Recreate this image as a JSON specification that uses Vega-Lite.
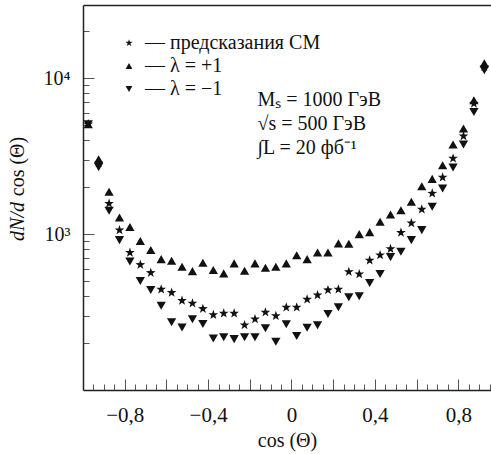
{
  "$schema": "https://vega.github.io/schema/vega-lite/v6.json",
  "width": 408,
  "height": 385,
  "autosize": {"type": "none"},
  "padding": {"left": 83, "top": 5, "right": 0, "bottom": 64},
  "background": "white",
  "config": {
    "font": "Liberation Serif",
    "view": {"stroke": null},
    "axis": {
      "grid": false,
      "domainColor": "#222222",
      "domainWidth": 1.5,
      "tickColor": "#555555",
      "tickWidth": 1,
      "labelFont": "Liberation Serif",
      "labelFontSize": 20,
      "labelColor": "#111111",
      "titleFont": "Liberation Serif",
      "titleFontSize": 20,
      "titleFontWeight": "normal",
      "titleColor": "#111111"
    },
    "legend": {
      "padding": 0,
      "labelFont": "Liberation Serif",
      "labelFontSize": 20,
      "labelColor": "#111111",
      "labelLimit": 0
    }
  },
  "data": {
    "values": [
      {"c": -0.975, "p": 5070, "sm": 5070, "m": 5070},
      {"c": -0.925, "p": 3025, "sm": 2850, "m": 2690},
      {"c": -0.875, "p": 1870, "sm": 1570, "m": 1410},
      {"c": -0.825, "p": 1280, "sm": 1060, "m": 915},
      {"c": -0.775, "p": 1110, "sm": 760, "m": 668},
      {"c": -0.725, "p": 902, "sm": 636, "m": 500},
      {"c": -0.675, "p": 790, "sm": 565, "m": 438},
      {"c": -0.625, "p": 691, "sm": 442, "m": 347},
      {"c": -0.575, "p": 674, "sm": 421, "m": 272},
      {"c": -0.525, "p": 617, "sm": 374, "m": 252},
      {"c": -0.475, "p": 579, "sm": 360, "m": 284},
      {"c": -0.425, "p": 655, "sm": 332, "m": 265},
      {"c": -0.375, "p": 588, "sm": 303, "m": 214},
      {"c": -0.325, "p": 560, "sm": 310, "m": 218},
      {"c": -0.275, "p": 649, "sm": 310, "m": 212},
      {"c": -0.225, "p": 582, "sm": 261, "m": 218},
      {"c": -0.175, "p": 649, "sm": 285, "m": 218},
      {"c": -0.125, "p": 608, "sm": 315, "m": 249},
      {"c": -0.075, "p": 617, "sm": 299, "m": 204},
      {"c": -0.025, "p": 649, "sm": 339, "m": 264},
      {"c": 0.025, "p": 733, "sm": 339, "m": 222},
      {"c": 0.075, "p": 691, "sm": 381, "m": 251},
      {"c": 0.125, "p": 763, "sm": 406, "m": 260},
      {"c": 0.175, "p": 763, "sm": 438, "m": 307},
      {"c": 0.225, "p": 872, "sm": 442, "m": 339},
      {"c": 0.275, "p": 867, "sm": 573, "m": 394},
      {"c": 0.325, "p": 1000, "sm": 554, "m": 399},
      {"c": 0.375, "p": 1030, "sm": 678, "m": 485},
      {"c": 0.425, "p": 1199, "sm": 733, "m": 554},
      {"c": 0.475, "p": 1337, "sm": 804, "m": 712},
      {"c": 0.525, "p": 1425, "sm": 1022, "m": 770},
      {"c": 0.575, "p": 1611, "sm": 1176, "m": 915},
      {"c": 0.625, "p": 2031, "sm": 1440, "m": 1061},
      {"c": 0.675, "p": 2262, "sm": 1823, "m": 1496},
      {"c": 0.725, "p": 2768, "sm": 2310, "m": 1963},
      {"c": 0.775, "p": 3758, "sm": 3058, "m": 2677},
      {"c": 0.825, "p": 4760, "sm": 4248, "m": 3758},
      {"c": 0.875, "p": 7224, "sm": 6885, "m": 6080},
      {"c": 0.925, "p": 12480, "sm": 11810, "m": 11250}
    ]
  },
  "resolve": {"axis": {"x": "independent", "y": "independent"}},
  "layer": [
    {
      "mark": {"type": "point", "opacity": 0},
      "encoding": {
        "x": {
          "field": "c",
          "type": "quantitative",
          "scale": {"domain": [-1, 0.957], "nice": false, "zero": false},
          "axis": {
            "orient": "bottom",
            "values": [-0.95, -0.9, -0.85, -0.8, -0.75, -0.7, -0.65, -0.6, -0.55, -0.5, -0.45, -0.4, -0.35, -0.3, -0.25, -0.2, -0.15, -0.1, -0.05, 0, 0.05, 0.1, 0.15, 0.2, 0.25, 0.3, 0.35, 0.4, 0.45, 0.5, 0.55, 0.6, 0.65, 0.7, 0.75, 0.8, 0.85, 0.9, 0.95],
            "labels": false,
            "domain": false,
            "tickSize": -6,
            "title": null
          }
        },
        "y": {
          "field": "sm",
          "type": "quantitative",
          "scale": {"type": "log", "domain": [100, 29500], "nice": false},
          "axis": {
            "orient": "left",
            "values": [200, 300, 400, 500, 600, 700, 800, 900, 2000, 3000, 4000, 5000, 6000, 7000, 8000, 9000, 20000],
            "labels": false,
            "domain": false,
            "tickSize": -6,
            "title": "cos (Θ)",
            "titleAngle": 270,
            "titleAlign": "center",
            "titleBaseline": "middle",
            "titleX": -66,
            "titleY": 161
          }
        }
      }
    },
    {
      "mark": {"type": "point", "opacity": 0},
      "encoding": {
        "x": {
          "field": "c",
          "type": "quantitative",
          "axis": {"orient": "top", "ticks": false, "labels": false, "domain": true, "title": null}
        }
      }
    },
    {
      "transform": [{"fold": ["sm", "p", "m"], "as": ["s", "v"]}],
      "mark": {"type": "point", "filled": true, "color": "#111111", "opacity": 1, "size": 86},
      "encoding": {
        "x": {
          "field": "c",
          "type": "quantitative",
          "axis": {
            "orient": "bottom",
            "values": [-0.8, -0.6, -0.4, -0.2, 0, 0.2, 0.4, 0.6, 0.8],
            "tickSize": -11,
            "labelPadding": 25,
            "labelFontSize": 21,
            "labelExpr": "round(datum.value * 10) % 4 == 0 ? (datum.value == 0 ? '0' : replace(format(datum.value, '.1f'), '.', ',')) : ''",
            "title": "cos (Θ)",
            "titleY": 50,
            "titleBaseline": "middle"
          }
        },
        "y": {
          "field": "v",
          "type": "quantitative",
          "axis": {
            "orient": "left",
            "values": [1000, 10000],
            "tickSize": -11,
            "labelPadding": 24,
            "labelExpr": "datum.value == 1000 ? '10³' : '10⁴'",
            "title": "dN/d",
            "titleFontStyle": "italic",
            "titleAngle": 270,
            "titleAlign": "center",
            "titleBaseline": "middle",
            "titleX": -66,
            "titleY": 216
          }
        },
        "shape": {
          "field": "s",
          "type": "nominal",
          "scale": {
            "domain": ["sm", "p", "m"],
            "range": [
              "M0,-1.1L0.259,-0.356L1.046,-0.34L0.418,0.136L0.647,0.89L0,0.44L-0.647,0.89L-0.418,0.136L-1.046,-0.34L-0.259,-0.356Z",
              "triangle-up",
              "triangle-down"
            ]
          },
          "legend": {
            "orient": "none",
            "legendX": 36,
            "legendY": 28,
            "title": null,
            "symbolSize": 45,
            "symbolFillColor": "#111111",
            "symbolStrokeWidth": 0,
            "rowPadding": 3,
            "labelOffset": 6,
            "labelLimit": 0,
            "labelExpr": "datum.value == 'sm' ? '— предсказания СМ' : datum.value == 'p' ? '— λ = +1' : '— λ = −1'"
          }
        }
      }
    },
    {
      "data": {"values": [{}]},
      "mark": {"type": "text", "align": "left", "baseline": "middle", "fontSize": 20, "font": "Liberation Serif", "color": "#111111"},
      "encoding": {
        "x": {"datum": -0.163, "type": "quantitative", "axis": null},
        "y": {"datum": 7230, "type": "quantitative", "axis": null},
        "text": {"value": "Mₛ = 1000 ГэВ"}
      }
    },
    {
      "data": {"values": [{}]},
      "mark": {"type": "text", "align": "left", "baseline": "middle", "fontSize": 20, "font": "Liberation Serif", "color": "#111111"},
      "encoding": {
        "x": {"datum": -0.163, "type": "quantitative", "axis": null},
        "y": {"datum": 5070, "type": "quantitative", "axis": null},
        "text": {"value": "√s = 500 ГэВ"}
      }
    },
    {
      "data": {"values": [{}]},
      "mark": {"type": "text", "align": "left", "baseline": "middle", "fontSize": 20, "font": "Liberation Serif", "color": "#111111"},
      "encoding": {
        "x": {"datum": -0.163, "type": "quantitative", "axis": null},
        "y": {"datum": 3556, "type": "quantitative", "axis": null},
        "text": {"value": "∫L = 20 фб⁻¹"}
      }
    }
  ]
}
